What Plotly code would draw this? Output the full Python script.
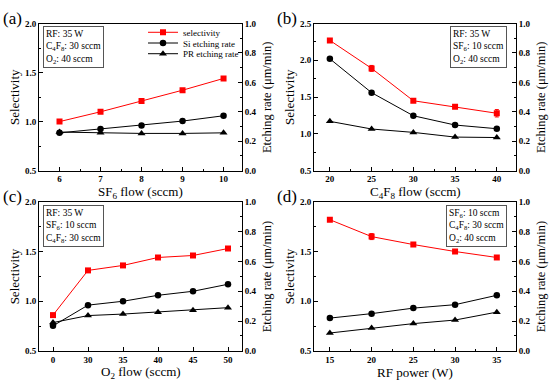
import plotly.graph_objects as go

# ---- data ----
sf6_flow = [6, 7, 8, 9, 10]
sel_a = [1.00, 1.10, 1.21, 1.32, 1.44]
si_a = [0.257, 0.283, 0.307, 0.337, 0.373]
pr_a = [0.262, 0.257, 0.253, 0.253, 0.257]

c4f8_flow = [20, 25, 30, 35, 40]
sel_b = [2.27, 1.89, 1.45, 1.37, 1.28]
sel_b_err = [0.02, 0.04, 0.02, 0.02, 0.05]
si_b = [0.76, 0.53, 0.373, 0.31, 0.285]
pr_b = [0.335, 0.283, 0.26, 0.228, 0.225]

o2_flow = ["0", "30", "35", "40", "45", "50"]
sel_c = [0.86, 1.31, 1.36, 1.44, 1.46, 1.53]
si_c = [0.168, 0.307, 0.333, 0.373, 0.40, 0.447]
pr_c = [0.19, 0.237, 0.247, 0.26, 0.273, 0.29]

rf_power = [15, 20, 25, 30, 35]
sel_d = [1.82, 1.65, 1.57, 1.50, 1.44]
sel_d_err = [0.01, 0.03, 0.01, 0.01, 0.01]
si_d = [0.22, 0.25, 0.287, 0.31, 0.373]
pr_d = [0.12, 0.153, 0.183, 0.207, 0.26]

panels = [
    dict(x=sf6_flow, sel=sel_a, err=None, si=si_a, pr=pr_a, xr=[5.5, 10.45], yl=[0.5, 2.0], ytick=[0.5, 1.0, 1.5, 2.0],
         xtitle="SF<sub>6</sub> flow (sccm)", label="(a)", xtype="linear",
         box="RF: 35 W<br>C<sub>4</sub>F<sub>8</sub>: 30 sccm<br>O<sub>2</sub>: 40 sccm", boxx="left"),
    dict(x=c4f8_flow, sel=sel_b, err=sel_b_err, si=si_b, pr=pr_b, xr=[18.1, 42.3], yl=[0.5, 2.5], ytick=[0.5, 1.0, 1.5, 2.0, 2.5],
         xtitle="C<sub>4</sub>F<sub>8</sub> flow (sccm)", label="(b)", xtype="linear",
         box="RF: 35 W<br>SF<sub>6</sub>: 10 sccm<br>O<sub>2</sub>: 40 sccm", boxx="right"),
    dict(x=o2_flow, sel=sel_c, err=None, si=si_c, pr=pr_c, xr=[-0.4, 5.4], yl=[0.5, 2.0], ytick=[0.5, 1.0, 1.5, 2.0],
         xtitle="O<sub>2</sub> flow (sccm)", label="(c)", xtype="category",
         box="RF: 35 W<br>SF<sub>6</sub>: 10 sccm<br>C<sub>4</sub>F<sub>8</sub>: 30 sccm", boxx="left"),
    dict(x=rf_power, sel=sel_d, err=sel_d_err, si=si_d, pr=pr_d, xr=[13.1, 37.3], yl=[0.5, 2.0], ytick=[0.5, 1.0, 1.5, 2.0],
         xtitle="RF power (W)", label="(d)", xtype="linear",
         box="SF<sub>6</sub>: 10 sccm<br>C<sub>4</sub>F<sub>8</sub>: 30 sccm<br>O<sub>2</sub>: 40 sccm", boxx="right"),
]

W, H = 550, 390
# plot area pixel boxes (left, right, top, bottom)
boxes = [(39, 242, 19, 170), (314, 516, 19, 170), (39, 242, 202, 355), (314, 516, 202, 355)]

SERIF = "Liberation Serif"
RED = "#ff0000"

fig = go.Figure()


def legend_at(ypix):
    return dict(x=143 / W, y=1 - ypix / H, xanchor="left", yanchor="middle",
                bgcolor="rgba(0,0,0,0)", font=dict(family=SERIF, size=9),
                itemwidth=30)


layout = dict(width=W, height=H, margin=dict(l=0, r=0, t=0, b=0),
              paper_bgcolor="white", plot_bgcolor="white",
              font=dict(family=SERIF, color="black"), annotations=[],
              showlegend=True,
              legend=legend_at(28), legend2=legend_at(39), legend3=legend_at(50))

for i, (p, b) in enumerate(zip(panels, boxes)):
    n = i + 1
    xa = "x" if n == 1 else f"x{n}"
    yl = 2 * n - 1
    yr = 2 * n
    yla = "y" if yl == 1 else f"y{yl}"
    yra = f"y{yr}"
    l, r, t, bt = b
    xdom = [l / W, r / W]
    ydom = [1 - bt / H, 1 - t / H]
    tickfont = dict(family=SERIF, size=9, color="black", weight="bold")

    layout["xaxis" if n == 1 else f"xaxis{n}"] = dict(
        domain=xdom, anchor=yla, range=p["xr"], type=p["xtype"],
        showline=True, linecolor="black", linewidth=1, mirror=True,
        ticks="inside", ticklen=4, tickcolor="black", showgrid=False, zeroline=False,
        tickfont=tickfont,
        **({} if p["xtype"] == "category" else dict(dtick=(1 if n == 1 else 5), tick0=0,
                                                     minor=dict(ticks="inside", ticklen=2, dtick=(0.5 if n == 1 else 2.5), tickcolor="black"))))
    layout["yaxis" if yl == 1 else f"yaxis{yl}"] = dict(
        domain=ydom, anchor=xa, range=p["yl"], tickvals=p["ytick"], tickformat=".1f",
        showline=True, linecolor="black", linewidth=1,
        ticks="inside", ticklen=4, tickcolor="black", showgrid=False, zeroline=False,
        tickfont=tickfont,
        minor=dict(ticks="inside", ticklen=2, dtick=0.25, tickcolor="black"))
    layout[f"yaxis{yr}"] = dict(
        domain=ydom, anchor=xa, overlaying=yla, side="right", range=[0, 1.0], dtick=0.2, tickformat=".1f",
        showline=True, linecolor="black", linewidth=1,
        ticks="inside", ticklen=4, tickcolor="black", showgrid=False, zeroline=False,
        tickfont=tickfont,
        minor=dict(ticks="inside", ticklen=2, dtick=0.1, tickcolor="black"))

    show = (n == 1)
    fig.add_trace(go.Scatter(
        x=p["x"], y=p["sel"], xaxis=xa, yaxis=yla, mode="lines+markers", name="selectivity",
        line=dict(color=RED, width=1), marker=dict(symbol="square", size=6, color=RED),
        error_y=(dict(type="data", array=p["err"], color=RED, thickness=1, width=2) if p["err"] else None),
        showlegend=show, legend="legend"))
    fig.add_trace(go.Scatter(
        x=p["x"], y=p["si"], xaxis=xa, yaxis=yra, mode="lines+markers", name="Si etching rate",
        line=dict(color="black", width=1), marker=dict(symbol="circle", size=6.5, color="black"),
        showlegend=show, legend="legend2"))
    fig.add_trace(go.Scatter(
        x=p["x"], y=p["pr"], xaxis=xa, yaxis=yra, mode="lines+markers", name="PR etching rate",
        line=dict(color="black", width=1), marker=dict(symbol="triangle-up", size=7, color="black"),
        showlegend=show, legend="legend3"))

    cx = (l + r) / 2
    cy = (t + bt) / 2
    ann = layout["annotations"]
    # panel label
    ann.append(dict(text=p["label"], x=(l - 39 + 12) / W if n in (1, 3) else (l - 314 + 287) / W,
                    y=1 - (t - 5) / H, xref="paper", yref="paper", showarrow=False,
                    xanchor="center", yanchor="middle", font=dict(family=SERIF, size=17)))
    # left y title
    ann.append(dict(text="Selectivity", x=(l - 25) / W, y=1 - cy / H, xref="paper", yref="paper",
                    showarrow=False, textangle=-90, xanchor="center", yanchor="middle",
                    font=dict(family=SERIF, size=13)))
    # right y title
    ann.append(dict(text="Etching rate (μm/min)", x=(r + 25) / W, y=1 - cy / H, xref="paper", yref="paper",
                    showarrow=False, textangle=-90, xanchor="center", yanchor="middle",
                    font=dict(family=SERIF, size=12.5)))
    # x title
    ann.append(dict(text=p["xtitle"], x=cx / W, y=1 - (bt + 22) / H, xref="paper", yref="paper",
                    showarrow=False, xanchor="center", yanchor="middle",
                    font=dict(family=SERIF, size=13)))
    # condition box
    if p["boxx"] == "left":
        bx, xan = (l + 4) / W, "left"
    else:
        bx, xan = (r - 9) / W, "right"
    ann.append(dict(text=p["box"], x=bx, y=1 - (t + 3) / H, xref="paper", yref="paper",
                    showarrow=False, xanchor=xan, yanchor="top", align="left",
                    bordercolor="#555555", borderwidth=1, borderpad=2, bgcolor="white",
                    font=dict(family=SERIF, size=9.5)))

fig.update_layout(**layout)
fig.write_html("out.html", config={"displayModeBar": False},
               post_script="document.body.style.margin='0';document.body.style.overflow='hidden';")
